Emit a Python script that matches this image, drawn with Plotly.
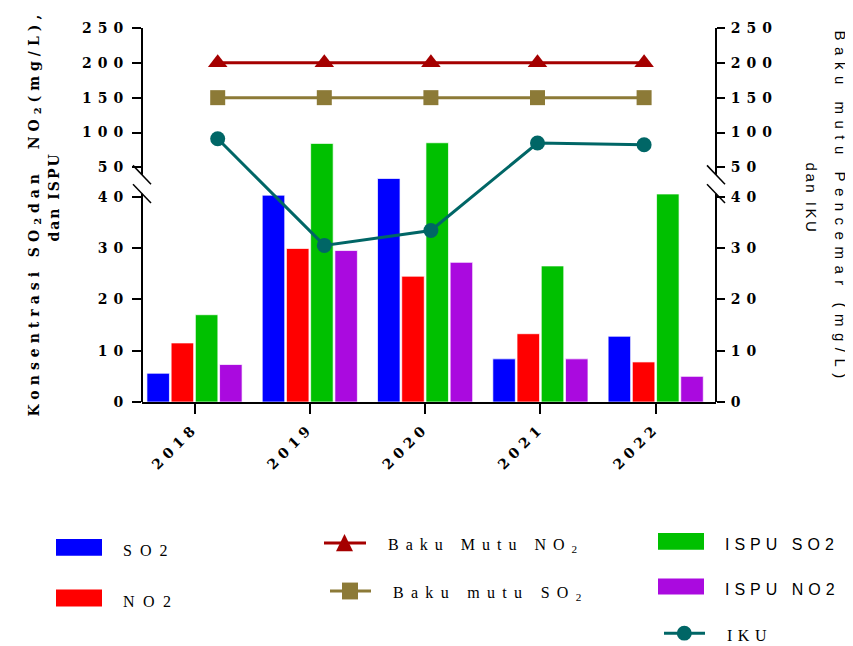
import numpy as np
import plotly.graph_objects as go

# ---------------- data ----------------
years = ["2018", "2019", "2020", "2021", "2022"]
so2 = [5.6, 40.5, 46.2, 8.4, 12.8]
no2 = [11.5, 29.9, 24.5, 13.3, 7.8]
ispu_so2 = [17.0, 84.4, 85.3, 26.5, 40.9]
ispu_no2 = [7.3, 29.5, 27.2, 8.4, 5.0]
baku_no2 = [200, 200, 200, 200, 200]
baku_so2 = [150, 150, 150, 150, 150]
iku = [91.0, 30.5, 33.4, 84.9, 82.5]
y_ticks = [0, 10, 20, 30, 40, 50, 100, 150, 200, 250]

# ---------------- broken-axis scale (0-40 | gap | 50-250) ----------------
BREAK_VALS = [0, 40, 50, 250]
BREAK_POS = [0, 207, 236.5, 377]


def fwd(v):
    return list(np.interp(v, BREAK_VALS, BREAK_POS))


# ---------------- geometry helpers (page pixels) ----------------
OFF = 8                      # default page body margin
W, H = 853 - OFF, 646 - OFF  # figure size
L, R, T, B = 142, 716, 20, 402  # plot area in page pixels


def px_x(px):
    return (px - L) / (R - L)


def px_y(py):
    return (B - py) / (B - T)


def sp(text, ls):
    return f'<span style="letter-spacing:{ls}px">{text}</span>'


TICK_FONT = dict(family="DejaVu Serif", size=14, color="black", weight="bold")

fig = go.Figure()

bar_specs = [
    ("SO2", so2, "#0000FF"),
    ("NO2", no2, "#FF0000"),
    ("ISPU SO2", ispu_so2, "#00C000"),
    ("ISPU NO2", ispu_no2, "#AA0ADF"),
]
for name, vals, col in bar_specs:
    fig.add_trace(go.Bar(
        x=years, y=fwd(vals), name=name, marker_color=col,
        marker_line=dict(color="rgba(255,255,255,0.7)", width=1),
        xaxis="x", yaxis="y", customdata=vals,
        hovertemplate="%{x}: %{customdata}<extra>" + name + "</extra>",
    ))

line_specs = [
    ("Baku Mutu NO2", baku_no2, "#A50000", "triangle-up", 17),
    ("Baku mutu SO2", baku_so2, "#8C7A37", "square", 15),
    ("IKU", iku, "#006666", "circle", 15),
]
for name, vals, col, sym, size in line_specs:
    fig.add_trace(go.Scatter(
        x=years, y=fwd(vals), name=name, mode="lines+markers",
        line=dict(color=col, width=3),
        marker=dict(symbol=sym, size=size, color=col),
        xaxis="x2", yaxis="y2", customdata=vals,
        hovertemplate="%{x}: %{customdata}<extra>" + name + "</extra>",
    ))

tickvals = fwd(y_ticks)
ticktext = [sp(str(t), 6) for t in y_ticks]

# x ranges in category units
x_range = [(L - 194.5) / 115.3, (R - 194.5) / 115.3]
x2_range = [(L - 217.7) / 106.6, (R - 217.7) / 106.6]

shapes = []
# broken axis lines
for xa in (L, R):
    shapes.append(dict(type="line", xref="paper", yref="paper",
                       x0=px_x(xa), x1=px_x(xa), y0=px_y(B), y1=px_y(192),
                       line=dict(color="black", width=2)))
    shapes.append(dict(type="line", xref="paper", yref="paper",
                       x0=px_x(xa), x1=px_x(xa), y0=px_y(173), y1=px_y(25),
                       line=dict(color="black", width=2)))
    for cy in (173, 192):
        shapes.append(dict(type="line", xref="paper", yref="paper",
                           x0=px_x(xa - 9), y0=px_y(cy - 9.5),
                           x1=px_x(xa + 9), y1=px_y(cy + 9.5),
                           line=dict(color="black", width=1.5)))


def rect(x0, x1, y0, y1, col):
    return dict(type="rect", xref="paper", yref="paper",
                x0=px_x(x0), x1=px_x(x1), y0=px_y(y1), y1=px_y(y0),
                fillcolor=col, line=dict(width=0))


# legend swatches
shapes += [
    rect(56, 102, 540, 557, "#0000FF"),
    rect(56, 102, 591, 608, "#FF0000"),
    rect(658, 704, 534, 551, "#00C000"),
    rect(658, 704, 580, 596, "#AA0ADF"),
]
# legend line samples
for (x0, x1, yy, col) in [(324, 366, 544, "#A50000"),
                          (330, 371, 592.5, "#8C7A37"),
                          (664, 705, 635, "#006666")]:
    shapes.append(dict(type="line", xref="paper", yref="paper",
                       x0=px_x(x0), x1=px_x(x1), y0=px_y(yy), y1=px_y(yy),
                       line=dict(color=col, width=3)))
# triangle marker
tx, ty = 344.5, 544
shapes.append(dict(type="path", xref="paper", yref="paper",
                   path=(f"M {px_x(tx)},{px_y(ty - 9)} L {px_x(tx - 8.5)},{px_y(ty + 8.5)} "
                         f"L {px_x(tx + 8.5)},{px_y(ty + 8.5)} Z"),
                   fillcolor="#A50000", line=dict(width=0)))
# square marker
shapes.append(rect(342, 358, 584, 601, "#8C7A37"))
# circle marker
shapes.append(dict(type="circle", xref="paper", yref="paper",
                   x0=px_x(684.3 - 7.5), x1=px_x(684.3 + 7.5),
                   y0=px_y(635 + 7.5), y1=px_y(635 - 7.5),
                   fillcolor="#006666", line=dict(width=0)))

SERIF = dict(family="Liberation Serif", size=16, color="black")
SANS = dict(family="Liberation Sans", size=16, color="black")


def leg_text(text, x, y, font):
    return dict(text=text, xref="paper", yref="paper", x=px_x(x), y=px_y(y),
                xanchor="left", yanchor="middle", showarrow=False, font=font)


TITLE_L = dict(family="DejaVu Serif", size=14, color="black", weight="bold")
TITLE_R = dict(family="Liberation Sans", size=15, color="black")

annotations = [
    leg_text(sp("SO2", 8), 121, 552, SERIF),
    leg_text(sp("NO2", 8.5), 121, 603, SERIF),
    leg_text(sp("Baku Mutu NO<sub>2</sub>", 7), 386, 547, SERIF),
    leg_text(sp("Baku mutu SO<sub>2</sub>", 7.3), 391, 595, SERIF),
    leg_text(sp("ISPU SO2", 5), 723, 546, SANS),
    leg_text(sp("ISPU NO2", 5), 723, 591, SANS),
    leg_text(sp("IKU", 5.5), 725, 637, SERIF),
    # left axis title (two lines)
    dict(text=sp("Konsentrasi SO<sub>2</sub>dan  NO<sub>2</sub>(mg/L),", 5),
         xref="paper", yref="paper", x=px_x(35), y=px_y(212),
         xanchor="center", yanchor="middle", textangle=-90, showarrow=False,
         font=TITLE_L),
    dict(text=sp("dan ISPU", 2),
         xref="paper", yref="paper", x=px_x(54), y=px_y(196),
         xanchor="center", yanchor="middle", textangle=-90, showarrow=False,
         font=TITLE_L),
    # right axis title (two lines)
    dict(text=sp("Baku mutu Pencemar (mg/L)", 6.5),
         xref="paper", yref="paper", x=px_x(840), y=px_y(206),
         xanchor="center", yanchor="middle", textangle=90, showarrow=False,
         font=TITLE_R),
    dict(text=sp("dan IKU", 2.5),
         xref="paper", yref="paper", x=px_x(811), y=px_y(197),
         xanchor="center", yanchor="middle", textangle=90, showarrow=False,
         font=TITLE_R),
]

fig.update_layout(
    width=W, height=H,
    margin=dict(l=L - OFF, r=W - (R - OFF), t=T - OFF, b=H - (B - OFF), pad=0),
    paper_bgcolor="white", plot_bgcolor="white",
    showlegend=False,
    barmode="group", bargap=0.16, bargroupgap=0.07,
    xaxis=dict(type="category", categoryorder="array", categoryarray=years,
               range=x_range, showline=True, linecolor="black", linewidth=2,
               ticks="outside", ticklen=10, tickwidth=2, tickcolor="black",
               tickangle=-45, tickvals=years,
               ticktext=[sp(y, 5) for y in years], tickfont=TICK_FONT,
               showgrid=False, zeroline=False, fixedrange=True),
    xaxis2=dict(type="category", categoryorder="array", categoryarray=years,
                range=x2_range, overlaying="x", visible=False, fixedrange=True),
    yaxis=dict(range=[0, B - T], tickvals=tickvals, ticktext=ticktext,
               ticks="outside", ticklen=9, tickwidth=2, tickcolor="black",
               tickfont=TICK_FONT, showline=False, showgrid=False,
               zeroline=False, fixedrange=True),
    yaxis2=dict(range=[0, B - T], tickvals=tickvals, ticktext=ticktext,
                overlaying="y", side="right", anchor="x2",
                ticks="outside", ticklen=8, tickwidth=2, tickcolor="black",
                tickfont=TICK_FONT, ticklabelstandoff=3, showline=False,
                showgrid=False, zeroline=False, fixedrange=True),
    shapes=shapes,
    annotations=annotations,
)

fig.write_html("out.html")
